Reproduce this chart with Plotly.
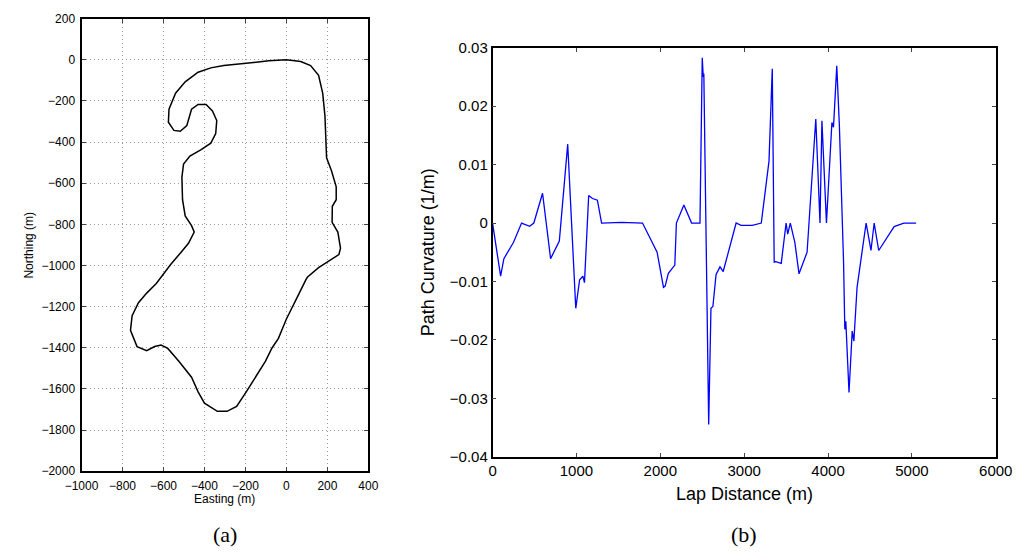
import plotly.graph_objects as go

# ---- Track (a): Easting / Northing in metres ----
easting = [0, 70, 118, 157, 177, 188, 196, 220, 243, 243, 224, 223, 251, 264, 256, 196, 157, 102,
           94, 55, 24, 0, -39, -71, -102, -149, -196, -243, -290, -337, -400, -431, -463, -525,
           -580, -612, -643, -682, -729, -761, -753, -722, -682, -635, -588, -565, -518, -478,
           -450, -463, -494, -507, -510, -502, -471, -416, -369, -345, -340, -361, -392, -431,
           -463, -478, -486, -518, -549, -576, -573, -541, -494, -431, -369, -306, -212, -86, 0]
northing = [0, -8, -28, -75, -162, -272, -476, -539, -617, -680, -712, -790, -837, -916, -947, -987,
            -1010, -1057, -1071, -1150, -1213, -1260, -1354, -1402, -1465, -1543, -1614, -1685,
            -1709, -1709, -1669, -1614, -1543, -1465, -1402, -1386, -1394, -1414, -1394, -1315,
            -1244, -1181, -1134, -1087, -1024, -995, -940, -892, -837, -806, -759, -680, -570,
            -507, -468, -437, -405, -358, -295, -248, -217, -217, -240, -287, -319, -347, -343,
            -303, -240, -162, -107, -60, -39, -28, -17, -5, 0]

# ---- Curvature (b): lap distance (m) / path curvature (1/m) ----
lap_distance = [0, 96, 135, 192, 250, 346, 442, 492, 596, 692, 796, 896, 992, 1038, 1077, 1096,
                1146, 1192, 1250, 1300, 1538, 1788, 1904, 1962, 2038, 2058, 2096, 2173, 2192,
                2281, 2373, 2473, 2500, 2512, 2519, 2577, 2604, 2627, 2665, 2712, 2750, 2846,
                2904, 2962, 3096, 3204, 3296, 3335, 3358, 3377, 3442, 3500, 3519, 3550, 3604,
                3654, 3750, 3854, 3904, 3927, 3981, 4046, 4065, 4104, 4135, 4185, 4200, 4212,
                4250, 4288, 4308, 4346, 4404, 4454, 4512, 4550, 4604, 4788, 4904, 5050]
curvature = [0, -0.0091, -0.0061, -0.0047, -0.0033, 0.0, -0.00055, 0.0, 0.0051, -0.0061, -0.0031,
             0.0135, -0.0146, -0.0097, -0.0091, -0.0102, 0.0047, 0.0042, 0.0039, 0.0, 0.0001, 0.0,
             -0.0033, -0.0050, -0.0110, -0.0108, -0.0086, -0.0072, 0.0, 0.0031, 0.0, 0.0, 0.0283,
             0.0250, 0.0256, -0.0345, -0.0146, -0.0143, -0.0088, -0.0075, -0.0083, -0.0033, 0.0,
             -0.0004, -0.0004, 0.0, 0.0106, 0.0264, -0.0067, -0.0066, -0.0069, 0.0, -0.0019, 0.0,
             -0.0033, -0.0087, -0.0050, 0.0178, 0.0, 0.0175, 0.0, 0.0172, 0.0164, 0.0269, 0.0167,
             -0.0067, -0.0182, -0.0168, -0.0290, -0.0185, -0.0202, -0.0110, -0.0050, 0.0, -0.0047,
             0.0, -0.0047, -0.0006, 0.0, 0.0]

W, H = 1036, 560
sans = "Liberation Sans, Arial, sans-serif"
serif = "Liberation Serif, DejaVu Serif, serif"

fig = go.Figure()
fig.add_trace(go.Scatter(x=easting, y=northing, mode="lines",
                         line=dict(color="black", width=1.5), xaxis="x", yaxis="y",
                         showlegend=False, hoverinfo="skip"))
fig.add_trace(go.Scatter(x=lap_distance, y=curvature, mode="lines",
                         line=dict(color="#0000ff", width=1.3), xaxis="x2", yaxis="y2",
                         showlegend=False, hoverinfo="skip"))


def px(x):
    return x / W


def py(y):
    return 1 - y / H


L_x0, L_x1, L_y0, L_y1 = 66.7, 363.3, 10, 476.7
R_x0, R_x1, R_y0, R_y1 = 491.7, 1012, 40, 461.7

common_axis = dict(showline=True, linecolor="black", mirror="ticks", ticks="inside",
                   ticklen=4, tickcolor="#444", zeroline=False)
grid = dict(showgrid=True, gridcolor="#999999", griddash="1px,3px", gridwidth=1)

fig.update_layout(
    width=W, height=H, margin=dict(l=0, r=0, t=0, b=0),
    paper_bgcolor="white", plot_bgcolor="white",
    font=dict(family=sans, color="black"),
    xaxis=dict(domain=[px(L_x0), px(L_x1)], anchor="y", range=[-1000, 400], dtick=200,
               linewidth=2, tickfont=dict(size=12), ticklabelstandoff=2, **grid, **common_axis),
    yaxis=dict(domain=[py(L_y1), py(L_y0)], anchor="x", range=[-2000, 200], dtick=200,
               linewidth=2, tickfont=dict(size=12), ticklabelstandoff=2, **grid, **common_axis),
    xaxis2=dict(domain=[px(R_x0), px(R_x1)], anchor="y2", range=[0, 6000], dtick=1000,
                showgrid=False, linewidth=1.5, tickfont=dict(size=15), **common_axis),
    yaxis2=dict(domain=[py(R_y1), py(R_y0)], anchor="x2", range=[-0.04, 0.03], dtick=0.01,
                showgrid=False, linewidth=1.5, tickfont=dict(size=15), **common_axis),
    annotations=[
        dict(text="Northing (m)", x=px(12), y=py((L_y0 + L_y1) / 2), xref="paper", yref="paper",
             textangle=-90, showarrow=False, font=dict(size=12), xanchor="center", yanchor="middle"),
        dict(text="Easting (m)", x=px((L_x0 + L_x1) / 2), y=py(505), xref="paper", yref="paper",
             showarrow=False, font=dict(size=12), xanchor="center", yanchor="middle"),
        dict(text="(a)", x=px((L_x0 + L_x1) / 2), y=py(542), xref="paper", yref="paper",
             showarrow=False, font=dict(size=22, family=serif), xanchor="center", yanchor="middle"),
        dict(text="Path Curvature (1/m)", x=px(425), y=py((R_y0 + R_y1) / 2), xref="paper",
             yref="paper", textangle=-90, showarrow=False, font=dict(size=18),
             xanchor="center", yanchor="middle"),
        dict(text="Lap Distance (m)", x=px((R_x0 + R_x1) / 2), y=py(500), xref="paper",
             yref="paper", showarrow=False, font=dict(size=18), xanchor="center", yanchor="middle"),
        dict(text="(b)", x=px((R_x0 + R_x1) / 2), y=py(542), xref="paper", yref="paper",
             showarrow=False, font=dict(size=22, family=serif), xanchor="center", yanchor="middle"),
    ],
)

fig.write_html("out.html")
